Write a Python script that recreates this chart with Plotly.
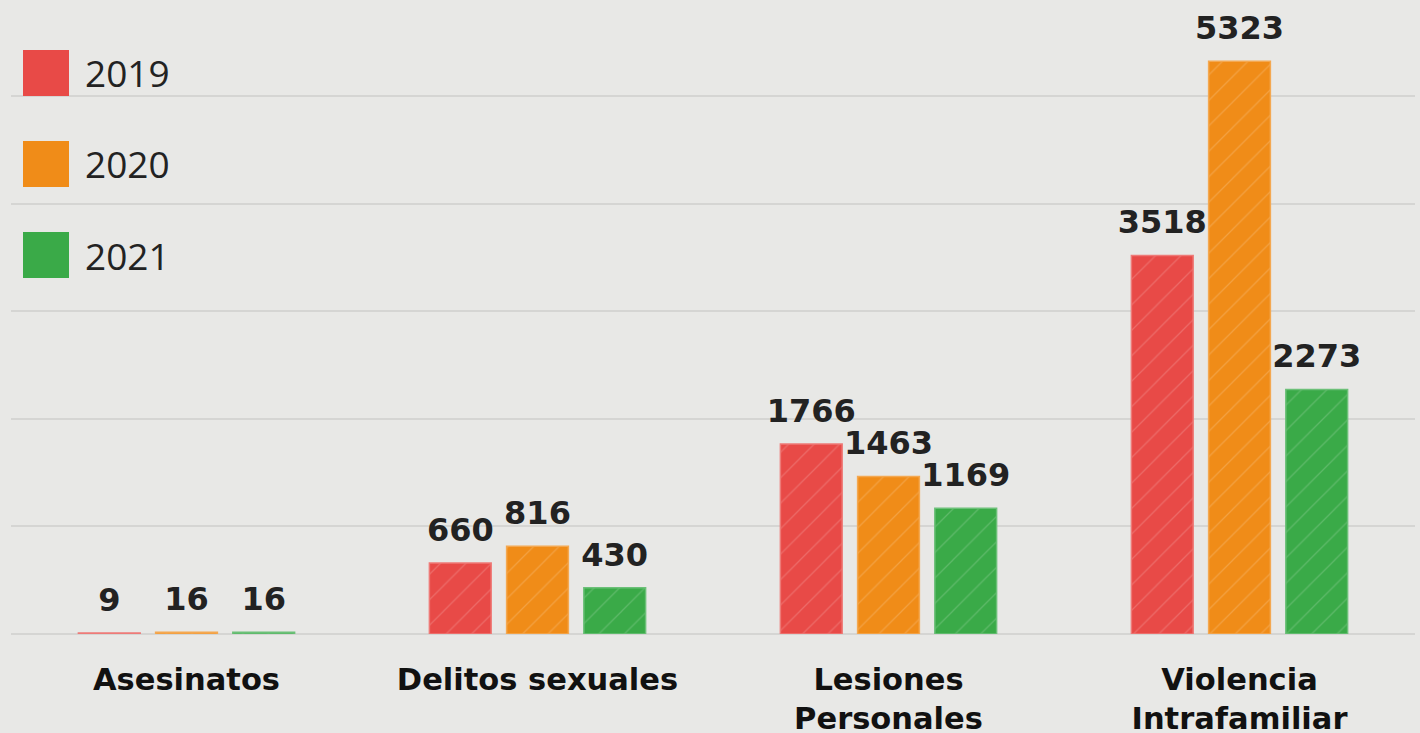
import plotly.graph_objects as go

categories = ["Asesinatos", "Delitos sexuales", "Lesiones<br>Personales", "Violencia<br>Intrafamiliar"]
years = ["2019", "2020", "2021"]
values_2019 = [9, 660, 1766, 3518]
values_2020 = [16, 816, 1463, 5323]
values_2021 = [16, 430, 1169, 2273]
colors = ["#e84a47", "#f08c18", "#3aaa48"]
edge_colors = ["#ee7a77", "#f4a851", "#6cc078"]
series = [values_2019, values_2020, values_2021]

W, H = 1420, 733
ML, MR, MT, MB = 11, 5, 0, 99
PW, PH = W - ML - MR, H - MT - MB
GAP = 0.34


def px_x(p):
    return (p - ML) / PW


def px_y(p):
    return (H - MB - p) / PH


fig = go.Figure()
for name, vals, col, edge in zip(years, series, colors, edge_colors):
    fig.add_trace(go.Bar(
        x=categories, y=vals, name=name,
        marker=dict(color=col,
                    line=dict(color=edge, width=1.5),
                    pattern=dict(shape="/", fgcolor="white", fgopacity=0.18,
                                 size=18, solidity=0.07, fillmode="overlay")),
        showlegend=False, hoverinfo="x+y",
    ))

# value labels (grouped text points aligned with the bars)
for name, vals in zip(years, series):
    fig.add_trace(go.Scatter(
        x=categories, y=vals, mode="markers+text", name=name,
        text=[str(v) for v in vals], textposition="top center",
        marker=dict(size=21, opacity=0, color="rgba(0,0,0,0)"),
        textfont=dict(family="DejaVu Sans", size=32, color="#222222", weight="bold"),
        cliponaxis=False, showlegend=False, hoverinfo="skip",
    ))

shapes = []
annotations = []
sw_top = [50, 141, 232]
for name, col, top in zip(years, colors, sw_top):
    shapes.append(dict(type="rect", xref="paper", yref="paper",
                       x0=px_x(23), x1=px_x(69), y0=px_y(top + 46), y1=px_y(top),
                       fillcolor=col, line=dict(width=0), layer="above"))
    annotations.append(dict(xref="paper", yref="paper", x=px_x(83), y=px_y(top + 23),
                            xanchor="left", yanchor="middle", text=name, showarrow=False,
                            font=dict(family="Open Sans", size=37, color="#222222")))

fig.update_layout(
    width=W, height=H,
    margin=dict(l=ML, r=MR, t=MT, b=MB, autoexpand=False),
    paper_bgcolor="#e8e8e6", plot_bgcolor="#e8e8e6",
    barmode="group", bargap=GAP, bargroupgap=0.2,
    scattermode="group", scattergap=GAP,
    shapes=shapes, annotations=annotations,
    xaxis=dict(showgrid=False, showline=False, ticks="outside", ticklen=18,
               tickcolor="rgba(0,0,0,0)", automargin=False,
               tickfont=dict(family="DejaVu Sans", size=30.5, color="#111111", weight="bold")),
    yaxis=dict(range=[0, 5892], dtick=1000, showgrid=True, gridcolor="#d5d5d3", gridwidth=2,
               zeroline=True, zerolinecolor="#d5d5d3", zerolinewidth=2,
               showticklabels=False, ticks="", automargin=False),
)

fig.write_html("out.html", config={"displayModeBar": False},
               post_script="document.body.style.margin='0';document.body.style.overflow='hidden';")
